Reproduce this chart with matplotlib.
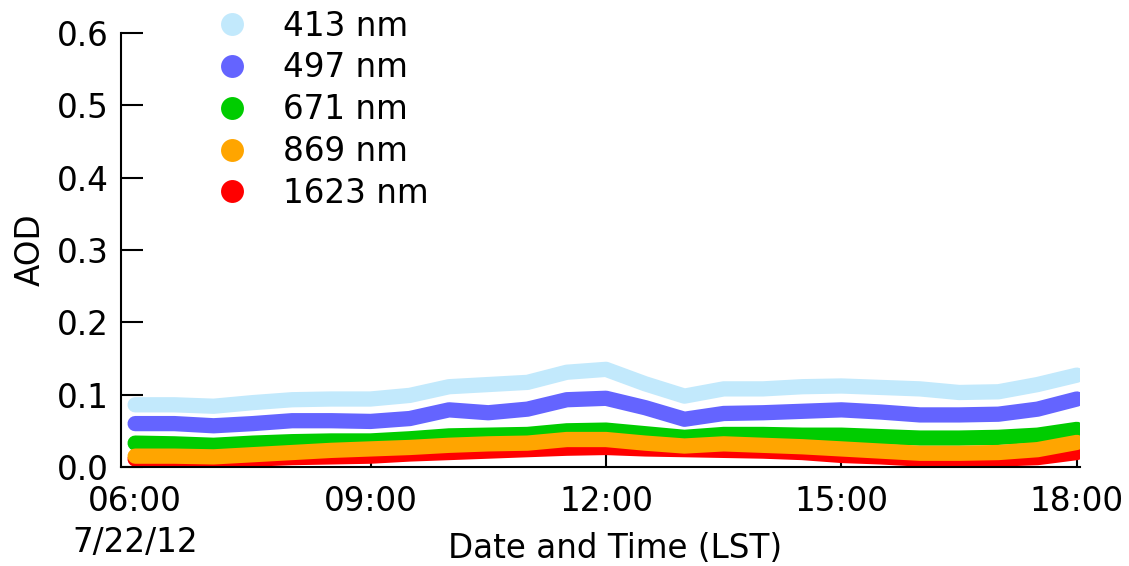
import matplotlib
matplotlib.use("Agg")
import matplotlib.pyplot as plt
from matplotlib.lines import Line2D

plt.rcParams['font.family'] = ['DejaVu Sans']

# time in hours (LST), 7/22/12
hours = [6.0, 6.5, 7.0, 7.5, 8.0, 8.5, 9.0, 9.5, 10.0, 10.5, 11.0, 11.5, 12.0,
         12.5, 13.0, 13.5, 14.0, 14.5, 15.0, 15.5, 16.0, 16.5, 17.0, 17.5, 18.0]

aod_413 = [0.086, 0.086, 0.084, 0.089, 0.093, 0.094, 0.094, 0.099, 0.111, 0.114, 0.117, 0.131, 0.135,
           0.115, 0.098, 0.108, 0.108, 0.111, 0.112, 0.110, 0.108, 0.103, 0.104, 0.114, 0.127]
aod_497 = [0.060, 0.060, 0.057, 0.060, 0.064, 0.064, 0.063, 0.067, 0.079, 0.075, 0.080, 0.093, 0.095,
           0.082, 0.066, 0.074, 0.075, 0.077, 0.079, 0.076, 0.072, 0.072, 0.073, 0.080, 0.094]
aod_671 = [0.033, 0.032, 0.030, 0.033, 0.035, 0.036, 0.036, 0.039, 0.043, 0.044, 0.045, 0.050, 0.051,
           0.046, 0.041, 0.045, 0.045, 0.044, 0.044, 0.042, 0.040, 0.040, 0.041, 0.044, 0.052]
aod_869 = [0.015, 0.015, 0.014, 0.017, 0.020, 0.023, 0.025, 0.027, 0.030, 0.032, 0.033, 0.038, 0.038,
           0.033, 0.029, 0.032, 0.030, 0.028, 0.025, 0.022, 0.019, 0.019, 0.020, 0.024, 0.034]
aod_1623 = [0.011, 0.010, 0.009, 0.011, 0.013, 0.014, 0.015, 0.018, 0.020, 0.022, 0.024, 0.026, 0.027,
            0.025, 0.024, 0.023, 0.022, 0.020, 0.016, 0.014, 0.011, 0.011, 0.011, 0.013, 0.020]

series_labels = ['413 nm', '497 nm', '671 nm', '869 nm', '1623 nm']
series_colors = ['#C2E9FC', '#6464FF', '#00CC00', '#FFA500', '#FF0000']

xtick_pos = [6, 9, 12, 15, 18]
xtick_labels = ['06:00\n7/22/12', '09:00', '12:00', '15:00', '18:00']
ytick_pos = [0.0, 0.1, 0.2, 0.3, 0.4, 0.5, 0.6]
ytick_labels = ['0.0', '0.1', '0.2', '0.3', '0.4', '0.5', '0.6']

FS = 23.5

fig = plt.figure(figsize=(11.29, 5.66), dpi=100)
ax = fig.add_axes([121/1129, 1-467/566, (1080-121)/1129, (467-33)/566])

data = {'413 nm': aod_413, '497 nm': aod_497, '671 nm': aod_671,
        '869 nm': aod_869, '1623 nm': aod_1623}
order = ['413 nm', '497 nm', '671 nm', '1623 nm', '869 nm']
for lab in order:
    c = series_colors[series_labels.index(lab)]
    ax.plot(hours, data[lab], color=c, lw=11, solid_capstyle='round',
            solid_joinstyle='round')

ax.set_xlim(5.82, 18.04)
ax.set_ylim(0, 0.6)
ax.set_xticks(xtick_pos)
ax.set_xticklabels(xtick_labels, fontsize=FS, linespacing=1.3)
ax.set_yticks(ytick_pos)
ax.set_yticklabels(ytick_labels, fontsize=FS)
ax.tick_params(axis='x', direction='in', length=11, width=1.5, pad=13)
ax.tick_params(axis='y', direction='in', length=16, width=1.5, pad=9)
for s in ['top', 'right']:
    ax.spines[s].set_visible(False)
for s in ['left', 'bottom']:
    ax.spines[s].set_linewidth(1.5)

fig.text(615/1129, 1-548/566, 'Date and Time (LST)', fontsize=FS, ha='center', va='center')
fig.text(30/1129, 1-250/566, 'AOD', fontsize=FS, ha='center', va='center', rotation=90)

handles = [Line2D([], [], ls='none', marker='o', ms=16.5, color=c, markeredgewidth=0)
           for c in series_colors]
fig.legend(handles, series_labels, loc='upper left', bbox_to_anchor=(211/1129, 1-8/566),
           frameon=False, fontsize=FS, handletextpad=0.95, labelspacing=0.27,
           borderaxespad=0, borderpad=0.05, handlelength=1.2)

fig.savefig('out.png', dpi=100)
